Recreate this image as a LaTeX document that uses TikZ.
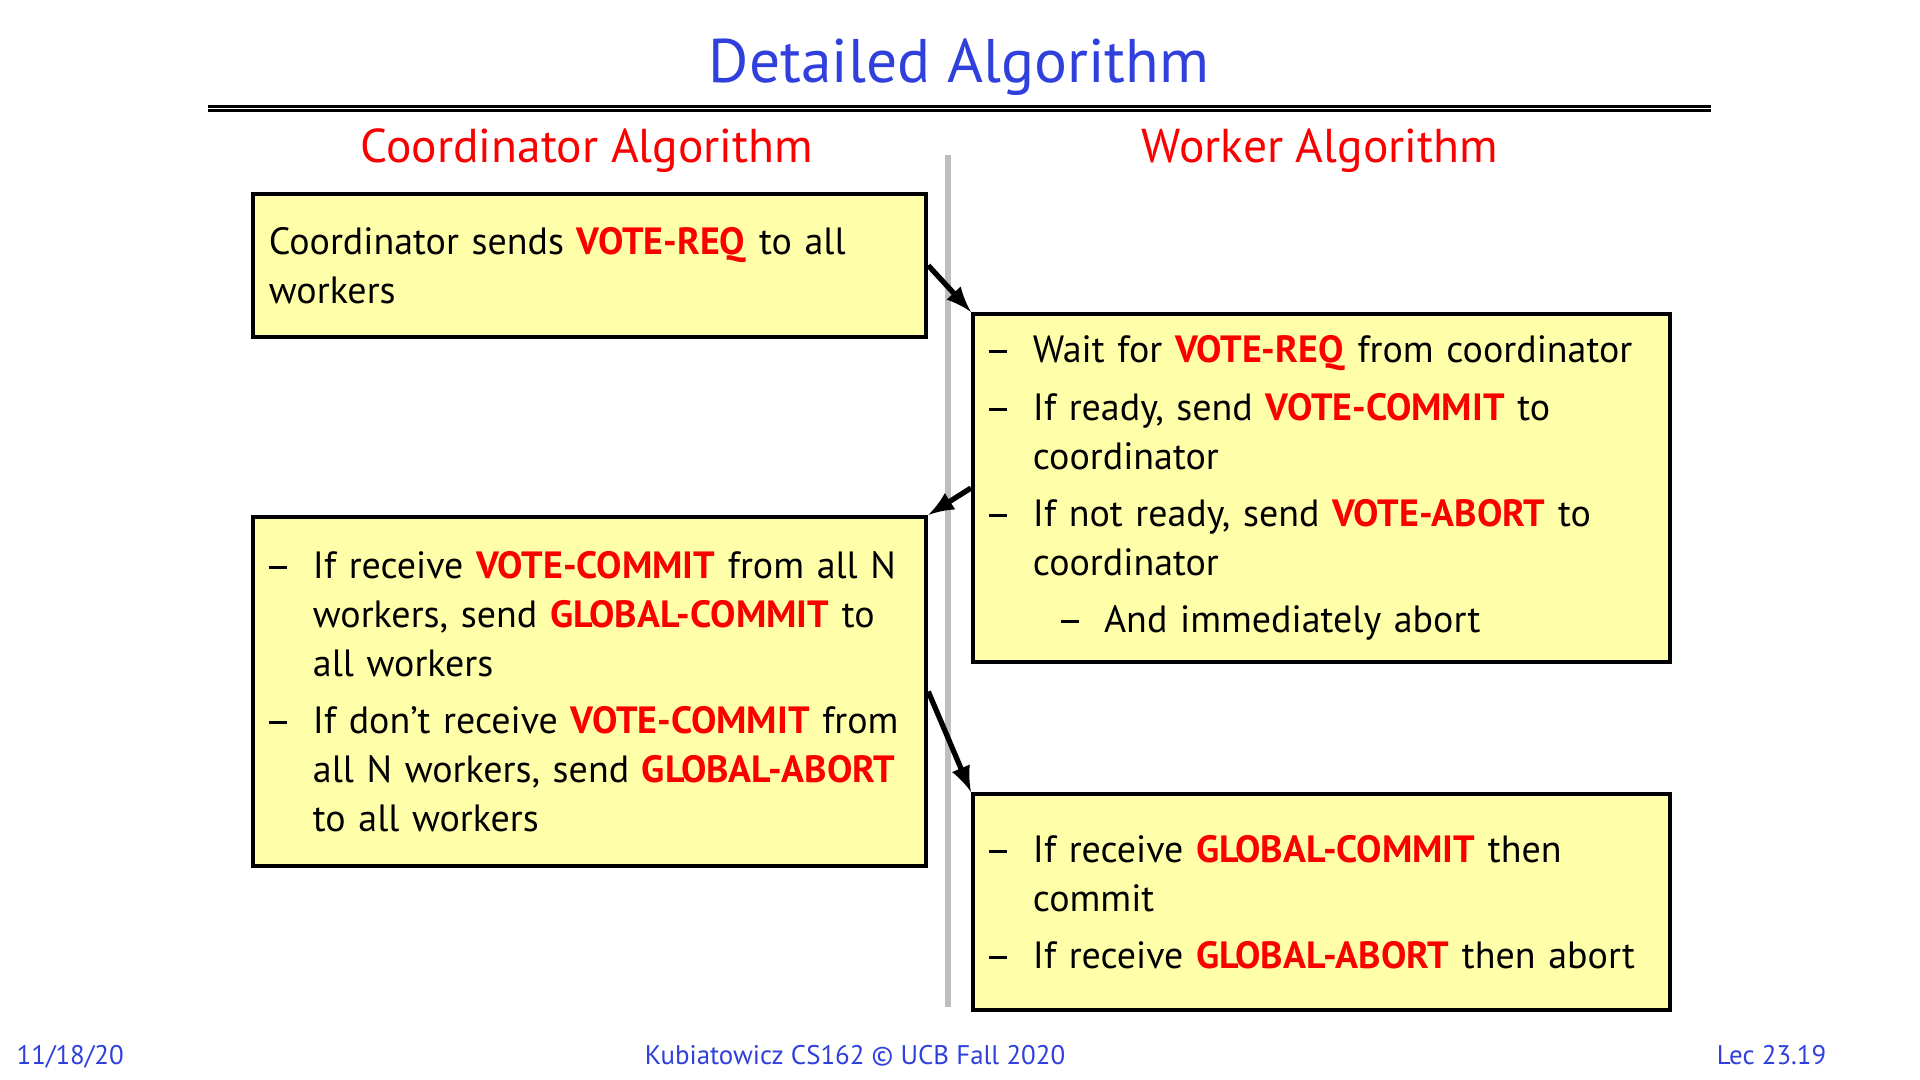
\documentclass[tikz,border=0pt]{standalone}
\usepackage{fontspec}
\usepackage{xcolor}
\setmainfont{PT Sans}
\definecolor{titleblue}{RGB}{48, 64, 221}
\definecolor{msgred}{RGB}{250, 0, 0}
\definecolor{boxyellow}{RGB}{255, 255, 170}
\definecolor{splitgray}{RGB}{190, 190, 190}
\newcommand{\msg}[1]{\textcolor{msgred}{\textbf{#1}}}
\newcommand{\itemdash}{\rule[0.25em]{0.48em}{0.075em}}
\newcommand{\stepitem}[1]{\hangindent=0.44cm\hangafter=1\noindent\makebox[0.44cm][l]{\itemdash}#1\par}
\newcommand{\substepitem}[1]{\hangindent=1.15cm\hangafter=1\noindent\hspace*{0.72cm}\makebox[0.43cm][l]{\itemdash}#1\par}
\newcommand{\bodyfont}{\fontsize{10.8}{13.9}\selectfont\setlength{\parskip}{2.4pt}\raggedright}

\begin{document}
\begin{tikzpicture}[>=latex, x=0.01cm, y=-0.01cm]
    \tikzset{
        algbox/.style={draw=black, line width=1.1pt, fill=boxyellow, inner xsep=0.16cm,
            anchor=north west, font=\bodyfont},
        flow/.style={->, line width=1.5pt},
        footer/.style={text=titleblue, inner sep=0pt, font=\fontsize{7.65}{9}\selectfont}
    }
    \useasboundingbox (0,0) rectangle (1920,1080);

    % Title and rules
    \node[anchor=base, text=titleblue, font=\fontsize{17.5}{20}\selectfont] (title) at (959,83) {Detailed Algorithm};
    \draw[line width=0.7pt] (208,106.5) -- (1711,106.5);
    \draw[line width=0.7pt] (208,110.5) -- (1711,110.5);

    % Column headings
    \node[anchor=base, text=msgred, font=\fontsize{13.5}{15}\selectfont] (coordhead) at (587,163) {Coordinator Algorithm};
    \node[anchor=base, text=msgred, font=\fontsize{13.5}{15}\selectfont] (workhead) at (1320,163) {Worker Algorithm};
    \draw[splitgray, line width=1.5pt] (948,155) -- (948,1007);

    % Coordinator side
    \node[algbox, text width=6.41cm, minimum height=1.43cm] (votereq) at (251,192)
        {Coordinator sends \msg{VOTE-REQ} to all\newline workers};
    \node[algbox, text width=6.41cm, minimum height=3.49cm] (decide) at (251,515)
        {\stepitem{If receive \msg{VOTE-COMMIT} from all N\newline workers, send \msg{GLOBAL-COMMIT} to\newline all workers}
         \stepitem{If don't receive \msg{VOTE-COMMIT} from\newline all N workers, send \msg{GLOBAL-ABORT}\newline to all workers}};

    % Worker side
    \node[algbox, text width=6.65cm, minimum height=3.48cm] (vote) at (971,312)
        {\stepitem{Wait for \msg{VOTE-REQ} from coordinator}
         \stepitem{If ready, send \msg{VOTE-COMMIT} to\newline coordinator}
         \stepitem{If not ready, send \msg{VOTE-ABORT} to\newline coordinator}
         \substepitem{And immediately abort}};
    \node[algbox, text width=6.65cm, minimum height=2.16cm] (finish) at (971,792)
        {\stepitem{If receive \msg{GLOBAL-COMMIT} then\newline commit}
         \stepitem{If receive \msg{GLOBAL-ABORT} then abort}};

    % Messages
    \draw[flow] (votereq.east) -- (vote.north west);
    \draw[flow] (vote.west) -- (decide.north east);
    \draw[flow] (decide.east) -- (finish.north west);

    % Footer
    \node[footer, anchor=base west] (date) at (16,1065) {11/18/20};
    \node[footer, anchor=base] (credit) at (855,1065) {Kubiatowicz CS162 © UCB Fall 2020};
    \node[footer, anchor=base east] (lec) at (1827,1065) {Lec 23.19};
\end{tikzpicture}
\end{document}
